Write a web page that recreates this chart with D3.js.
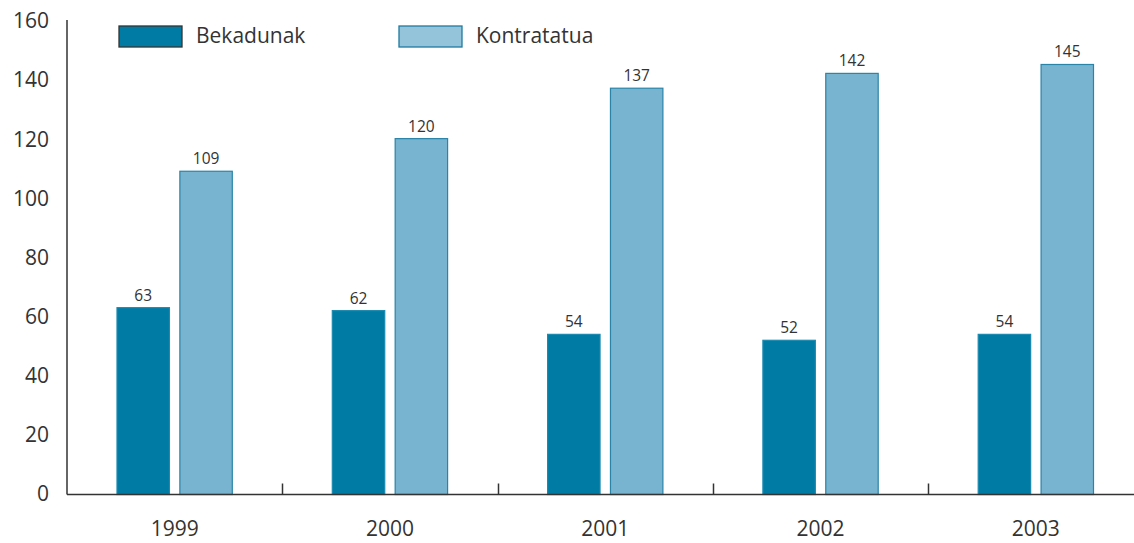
<!DOCTYPE html>
<html><head><meta charset="utf-8">
<script src="https://cdn.jsdelivr.net/npm/d3@7"></script>
<style>body{margin:0;background:#fff}svg{display:block}text{font-family:"Open Sans","Noto Sans",sans-serif;fill:#333}</style>
</head><body><svg id="c" width="1134" height="543"></svg>
<script>
const years = ["1999","2000","2001","2002","2003"];
const bekadunak = [63,62,54,52,54];
const kontratatua = [109,120,137,142,145];
const seriesNames = ["Bekadunak","Kontratatua"];
const yTicks = [0,20,40,60,80,100,120,140,160];

const svg = d3.select("#c");
const x0 = 67, x1 = 1143.5, yb = 494.5, yt = 20;
const x = d3.scaleBand().domain(years).range([x0,x1]);
const y = d3.scaleLinear().domain([0,160]).range([yb,yt]);
const inner = d3.scaleBand().domain(seriesNames).range([49.5, x.bandwidth()-49.5]).paddingInner(0.15);
const fills = {Bekadunak:"#007ba4",Kontratatua:"#78b3cf"};
const strokes = {Bekadunak:"#1a8ab0",Kontratatua:"#2a84a8"};
const data = years.map((yr,i)=>({yr, vals:[{k:"Bekadunak",v:bekadunak[i]},{k:"Kontratatua",v:kontratatua[i]}]}));

const g = svg.append("g").selectAll("g").data(data).join("g").attr("transform",d=>`translate(${x(d.yr)},0)`);
g.selectAll("rect").data(d=>d.vals).join("rect")
 .attr("x",d=>inner(d.k)+0.5).attr("width",inner.bandwidth()-1)
 .attr("y",d=>y(d.v)).attr("height",d=>yb-y(d.v))
 .attr("fill",d=>fills[d.k]).attr("stroke",d=>strokes[d.k]).attr("stroke-width",1.2);
g.selectAll("text").data(d=>d.vals).join("text")
 .attr("x",d=>inner(d.k)+inner.bandwidth()/2).attr("y",d=>y(d.v)-7)
 .attr("text-anchor","middle").attr("font-size",15.5).text(d=>d.v);

// y axis
const ya = svg.append("g").attr("transform",`translate(${x0},0)`)
 .call(d3.axisLeft(y).tickValues(yTicks).tickSize(0).tickPadding(18));
ya.select(".domain").attr("d",`M0,20V${yb}`).attr("stroke","#333").attr("stroke-width",1.5);
ya.selectAll(".tick").attr("transform",d=>`translate(0,${yb-(yb-21.6)*d/160})`);
ya.selectAll("text").attr("font-size",21).attr("fill","#333").attr("font-family",null);

// x axis
const xa = svg.append("g").attr("transform",`translate(0,${yb})`)
 .call(d3.axisBottom(x).tickSize(0).tickPadding(27));
xa.select(".domain").attr("d",`M${x0},0H1134`).attr("stroke","#333").attr("stroke-width",1.5);
xa.selectAll("text").attr("font-size",21).attr("fill","#333").attr("font-family",null);
svg.append("g").selectAll("line").data(years.slice(1)).join("line")
 .attr("x1",d=>Math.round(x(d))+0.5).attr("x2",d=>Math.round(x(d))+0.5)
 .attr("y1",yb-11).attr("y2",yb).attr("stroke","#333").attr("stroke-width",1.5);

// legend
const legX = [119,399];
const lg = svg.append("g").selectAll("g").data(seriesNames).join("g").attr("transform",(d,i)=>`translate(${legX[i]},26)`);
lg.append("rect").attr("width",63).attr("height",21).attr("fill",d=>d==="Bekadunak"?"#007ba4":"#94c4da")
 .attr("stroke",d=>d==="Bekadunak"?"#333":"#1f7aa0").attr("stroke-width",1.3);
lg.append("text").attr("x",77).attr("y",17).attr("font-size",21).text(d=>d);
</script></body></html>
